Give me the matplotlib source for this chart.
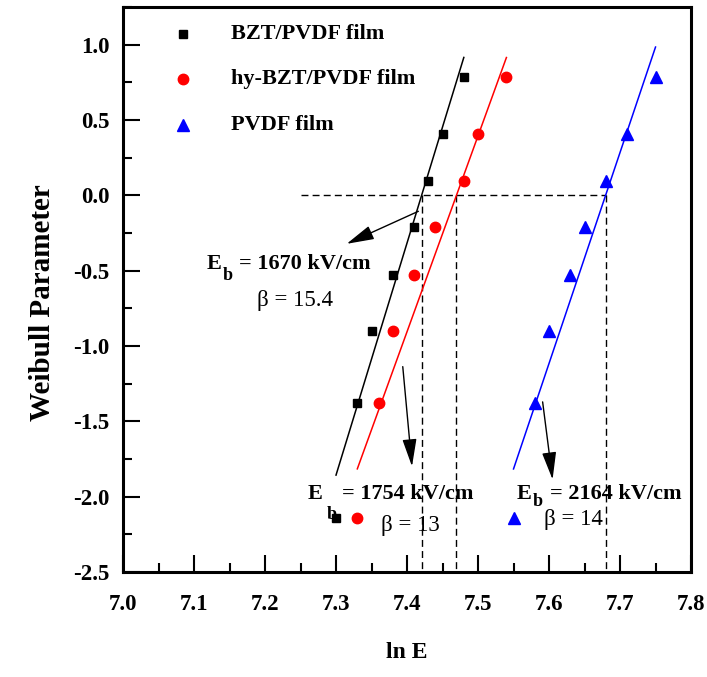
import numpy as np
import matplotlib
matplotlib.use("Agg")
import matplotlib.pyplot as plt

plt.rcParams["font.family"] = ["Liberation Serif", "DejaVu Serif"]
plt.rcParams["axes.unicode_minus"] = False

# Weibull plot data: ln(E) of breakdown field vs. Weibull parameter ln(-ln(1-P))
weibull_param = [-2.139, -1.381, -0.903, -0.531, -0.210, 0.094, 0.408, 0.787]
ln_e_bzt = [7.30, 7.33, 7.35, 7.38, 7.41, 7.43, 7.45, 7.48]
ln_e_hy_bzt = [7.33, 7.36, 7.38, 7.41, 7.44, 7.48, 7.50, 7.54]
ln_e_pvdf = [7.55, 7.58, 7.60, 7.63, 7.65, 7.68, 7.71, 7.75]
series_labels = ["BZT/PVDF film", "hy-BZT/PVDF film", "PVDF film"]

# Fit results: characteristic breakdown strength (kV/cm) and shape parameter
eb_kv_cm = [1670, 1754, 2164]
beta = [15.4, 13, 14]

colors = ["black", "red", "blue"]
markers = ["s", "o", "^"]
msizes = [6, 7.5, 8.5]

fig = plt.figure(figsize=(7.07, 6.77), dpi=100)
ax = fig.add_axes([0.174, 0.1551, 0.8034, 0.8346])

xs_all = [ln_e_bzt, ln_e_hy_bzt, ln_e_pvdf]
for xs, c, m, ms, eb, b in zip(xs_all, colors, markers, msizes, eb_kv_cm, beta):
    ax.plot(xs, weibull_param, linestyle="none", marker=m, color=c, ms=ms, zorder=4)
    xl = np.array([min(xs), max(xs)])
    ax.plot(xl, b * (xl - np.log(eb)), color=c, lw=1.1, zorder=3)

# Guide lines at the y = 0 crossing of each fit
dash = (0, (5, 3))
ln_eb = [np.log(v) for v in eb_kv_cm]
ax.plot([7.25, ln_eb[2]], [0, 0], color="black", lw=1.0, linestyle=dash, zorder=2)
for v in ln_eb:
    ax.plot([v, v], [0, -2.5], color="black", lw=1.0, linestyle=dash, zorder=2)

# Annotation arrows
arrow_kw = dict(arrowstyle="-|>,head_length=0.85,head_width=0.22",
                mutation_scale=20, color="black", lw=1.0,
                shrinkA=0, shrinkB=0)
arrows = [((7.416, -0.106), (7.315, -0.322)),
          ((7.394, -1.137), (7.407, -1.799)),
          ((7.591, -1.371), (7.605, -1.886))]
for tail, head in arrows:
    ax.annotate("", xy=head, xytext=tail, arrowprops=arrow_kw, zorder=5)

# E_b and beta labels; the subscript is placed as its own text (offsets in points)
fs_eb = 16
fs_beta = 16.5
eb_pos = [(7.118, -0.486), (7.260, -2.013), (7.555, -2.018)]
sub_off = [(11.5, -8.4), (13.5, -15.0), (11.5, -4.5)]
rest_off = [23.5, 25.0, 23.5]
beta_pos = [(7.242, -0.736), (7.405, -2.228), (7.635, -2.188)]
for eb, b, (xe, ye), so, ro, (xb, yb) in zip(eb_kv_cm, beta, eb_pos, sub_off,
                                            rest_off, beta_pos):
    ax.annotate("E", xy=(xe, ye), xytext=(0, 0), textcoords="offset points",
                fontsize=fs_eb, fontweight="bold", ha="left", va="baseline")
    ax.annotate("b", xy=(xe, ye), xytext=so, textcoords="offset points",
                fontsize=13, fontweight="bold", ha="left", va="baseline")
    ax.annotate(f"= {eb} kV/cm", xy=(xe, ye), xytext=(ro, 0),
                textcoords="offset points", fontsize=fs_eb, fontweight="bold",
                ha="left", va="baseline")
    ax.text(xb, yb, f"\u03b2 = {b:g}", fontsize=fs_beta, ha="center", va="baseline")

# Legend drawn as marker + label rows
leg_y = [0.952, 0.8726, 0.791]
for lab, c, m, ms, yy in zip(series_labels, colors, markers, msizes, leg_y):
    ax.plot([0.1056], [yy], transform=ax.transAxes, marker=m, color=c, ms=ms,
            linestyle="none", clip_on=False)
    ax.text(0.190, yy, lab, transform=ax.transAxes, fontsize=16,
            fontweight="bold", ha="left", va="center")

ax.set_xlim(7.0, 7.8)
ax.set_ylim(-2.5, 1.25)
ax.set_xticks(np.arange(7.0, 7.81, 0.1))
ax.set_xticks(np.arange(7.05, 7.8, 0.1), minor=True)
ax.set_yticks(np.arange(-2.5, 1.01, 0.5))
ax.set_yticks(np.arange(-2.25, 1.26, 0.5), minor=True)
ax.set_xticklabels([f"{v:.1f}" for v in np.arange(7.0, 7.81, 0.1)])
ax.set_yticklabels([f"{v:.1f}" for v in np.arange(-2.5, 1.01, 0.5)])

ax.tick_params(which="both", direction="in", top=False, right=False, width=1.5)
ax.tick_params(which="major", length=12, labelsize=16.5, pad=10)
ax.tick_params(axis="x", which="major", pad=16)
ax.tick_params(which="minor", length=6.5)
for lbl in ax.get_xticklabels() + ax.get_yticklabels():
    lbl.set_fontweight("bold")
for sp in ax.spines.values():
    sp.set_linewidth(2.2)

ax.set_xlabel("ln E", fontsize=17, fontweight="bold", labelpad=19)
ax.set_ylabel("Weibull Parameter", fontsize=21, fontweight="bold")
ax.yaxis.set_label_coords(-0.118, 0.476)

fig.savefig("out.png", dpi=100, facecolor="white")
